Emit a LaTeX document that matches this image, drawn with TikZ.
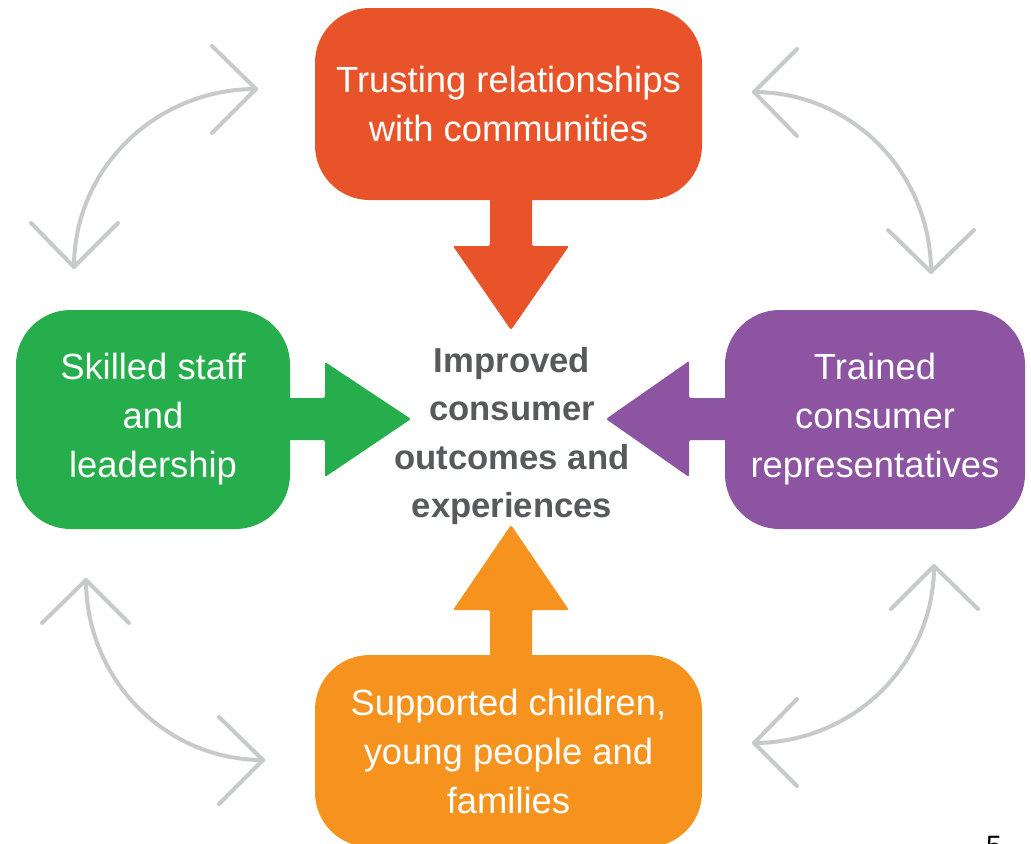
\documentclass[tikz,border=0pt]{standalone}
\usepackage{fontspec}
\setmainfont{Liberation Sans}
\definecolor{cRed}{HTML}{E8532A}
\definecolor{cGreen}{HTML}{25AE4B}
\definecolor{cPurple}{HTML}{8C54A1}
\definecolor{cOrange}{HTML}{F6931F}
\definecolor{cText}{HTML}{58595B}
\definecolor{cGray}{HTML}{C8C9C9}
\tikzset{
  box/.style={rounded corners=41pt, inner sep=0pt, text=white, align=center,
    font=\fontsize{27.3pt}{36.75pt}\selectfont},
  blockarrow/.style={rounded corners=1.5pt},
  cycarrow/.style={draw=cGray, line width=3pt, line cap=round, line join=round},
  centertext/.style={text=cText, align=center,
    font=\fontsize{26pt}{36.4pt}\selectfont\bfseries}
}
\begin{document}
\begin{tikzpicture}[x=0.75pt,y=-0.75pt]
\useasboundingbox (0,0) rectangle (1031,843);
\fill[white] (0,0) rectangle (1031,843);

% block arrows
\fill[cRed, blockarrow] (490,190) -- (490,246) -- (453,246) -- (511,330) -- (569,246) -- (532,246) -- (532,190) -- cycle;
\fill[cGreen, blockarrow] (280,398) -- (325,398) -- (325,362) -- (411,419) -- (325,477) -- (325,440) -- (280,440) -- cycle;
\fill[cPurple, blockarrow] (735,398) -- (689,398) -- (689,361) -- (606,419) -- (689,477) -- (689,440) -- (735,440) -- cycle;
\fill[cOrange, blockarrow] (490,665) -- (490,610) -- (453,610) -- (511,525) -- (569,610) -- (532,610) -- (532,665) -- cycle;

% boxes
\node[box, fill=cRed, minimum width=290.25pt, minimum height=144pt] (top) at (508.5,104)
  {Trusting relationships\\with communities};
\node[box, fill=cOrange, minimum width=290.25pt, minimum height=144pt] (bottom) at (508.5,751)
  {Supported children,\\young people and\\families};
\node[box, fill=cGreen, minimum width=205.5pt, minimum height=164.25pt] (left) at (153,419.5)
  {Skilled staff\\and\\leadership};
\node[box, fill=cPurple, minimum width=225pt, minimum height=164.25pt] (right) at (875,419.5)
  {Trained\\consumer\\representatives};

\node[centertext] (center) at (512,436) {Improved\\consumer\\outcomes and\\experiences};

% cycle arrows
\coordinate (tlA) at (256,89);  \coordinate (tlB) at (74,267);
\draw[cycarrow] (tlA) .. controls (155.5,89) and (74,168.7) .. (tlB);
\draw[cycarrow] (212,46) -- (tlA) -- (212,133);
\draw[cycarrow] (31,223) -- (tlB) -- (118,223);

\coordinate (trA) at (754,92);  \coordinate (trB) at (931,272);
\draw[cycarrow] (trA) .. controls (851.7,92) and (931,172.6) .. (trB);
\draw[cycarrow] (797,49) -- (trA) -- (797,136);
\draw[cycarrow] (888,230) -- (trB) -- (974,230);

\coordinate (blA) at (86,580);  \coordinate (blB) at (263,760);
\draw[cycarrow] (blA) .. controls (86,679.4) and (165.3,760) .. (blB);
\draw[cycarrow] (42,623) -- (blA) -- (129,623);
\draw[cycarrow] (219,717) -- (blB) -- (219,804);

\coordinate (brA) at (934,566);  \coordinate (brB) at (754,743);
\draw[cycarrow] (brA) .. controls (934,663.7) and (853.4,743) .. (brB);
\draw[cycarrow] (891,609) -- (brA) -- (978,609);
\draw[cycarrow] (797,699) -- (brB) -- (797,786);

% page number (cut at bottom edge)
\node[anchor=base, inner sep=0pt, font=\fontsize{21pt}{25pt}\selectfont] (pnum) at (994,855) {5};
\end{tikzpicture}
\end{document}
